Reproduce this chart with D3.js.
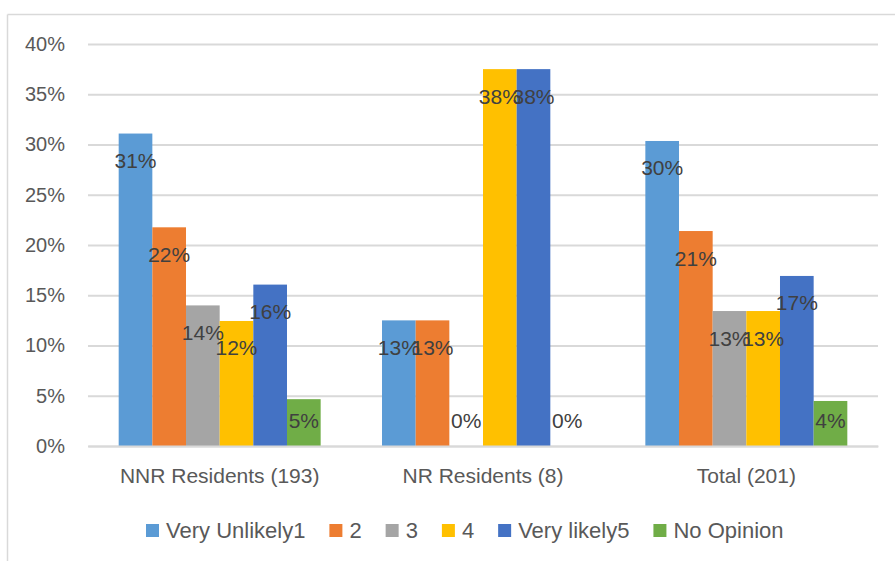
<!DOCTYPE html>
<html>
<head>
<meta charset="utf-8">
<script src="https://cdn.jsdelivr.net/npm/d3@7"></script>
<style>
  html, body { margin: 0; padding: 0; background: #fff; }
  svg { display: block; font-family: "Liberation Sans", Arial, sans-serif; }
</style>
</head>
<body>
<svg id="chart" width="895" height="561"></svg>
<script>
// ---- data ----
const categories = ["NNR Residents (193)", "NR Residents (8)", "Total (201)"];
const seriesNames = ["Very Unlikely1", "2", "3", "4", "Very likely5", "No Opinion"];
const seriesColors = ["#5B9BD5", "#ED7D31", "#A5A5A5", "#FFC000", "#4472C4", "#70AD47"];
// values per series, one per category (fractions)
const veryUnlikely1 = [0.3109, 0.125, 0.3035];
const s2            = [0.2176, 0.125, 0.2139];
const s3            = [0.1399, 0.0,   0.1343];
const s4            = [0.1244, 0.375, 0.1343];
const veryLikely5   = [0.1606, 0.375, 0.1692];
const noOpinion     = [0.0466, 0.0,   0.0448];
const seriesValues = [veryUnlikely1, s2, s3, s4, veryLikely5, noOpinion];
const yTicks = [0, 0.05, 0.10, 0.15, 0.20, 0.25, 0.30, 0.35, 0.40];

// ---- layout ----
const svg = d3.select("#chart");
const plot = { left: 88, right: 878, top: 44, bottom: 446 };

// chart frame (left and top edges visible)
svg.append("line").attr("x1", 7.5).attr("x2", 7.5).attr("y1", 14.5).attr("y2", 561)
  .attr("stroke", "#d9d9d9").attr("stroke-width", 1.5);
svg.append("line").attr("x1", 7.5).attr("x2", 895).attr("y1", 14.5).attr("y2", 14.5)
  .attr("stroke", "#d9d9d9").attr("stroke-width", 1.5);

const y = d3.scaleLinear().domain([0, 0.40]).range([plot.bottom, plot.top]);
const x0 = d3.scaleBand().domain(categories).range([plot.left, plot.right])
  .paddingInner(0.233).paddingOuter(0.1165);
const x1 = d3.scaleBand().domain(seriesNames).range([0, x0.bandwidth()]).padding(0);

// gridlines
const yAxis = d3.axisLeft(y).tickValues(yTicks).tickFormat(d3.format(".0%"))
  .tickSize(-(plot.right - plot.left)).tickPadding(23);
const gy = svg.append("g").attr("transform", `translate(${plot.left},0)`).call(yAxis);
gy.select(".domain").remove();
gy.selectAll(".tick line").attr("stroke", "#d9d9d9").attr("stroke-width", 2);
gy.selectAll(".tick text").attr("fill", "#595959").attr("font-size", 20)
  .attr("font-family", '"Liberation Sans", Arial, sans-serif');

// bars
const rows = [];
seriesNames.forEach((s, si) => {
  categories.forEach((c, ci) => {
    rows.push({ series: s, si, cat: c, value: seriesValues[si][ci] });
  });
});

svg.append("g").selectAll("rect").data(rows).join("rect")
  .attr("x", d => x0(d.cat) + x1(d.series))
  .attr("width", x1.bandwidth())
  .attr("y", d => y(d.value))
  .attr("height", d => y(0) - y(d.value))
  .attr("fill", d => seriesColors[d.si]);

// data labels (inside end)
svg.append("g").selectAll("text").data(rows).join("text")
  .attr("x", d => x0(d.cat) + x1(d.series) + x1.bandwidth() / 2)
  .attr("y", d => Math.min(y(d.value) + 34.5, y(0) - 18.5))
  .attr("text-anchor", "middle")
  .attr("font-size", 21)
  .attr("fill", "#404040")
  .text(d => d3.format(".0%")(d.value));

// category axis
const xAxis = d3.axisBottom(x0).tickSize(0).tickPadding(22);
const gx = svg.append("g").attr("transform", `translate(0,${plot.bottom})`).call(xAxis);
gx.select(".domain").attr("stroke", "#d9d9d9").attr("stroke-width", 2);
gx.selectAll(".tick text").attr("fill", "#595959").attr("font-size", 21)
  .attr("font-family", '"Liberation Sans", Arial, sans-serif');

// legend
const legend = svg.append("g").attr("transform", "translate(146,0)");
let lx = 0;
seriesNames.forEach((s, i) => {
  const g = legend.append("g").attr("transform", `translate(${lx},0)`);
  g.append("rect").attr("x", 0).attr("y", 524).attr("width", 13).attr("height", 13)
    .attr("fill", seriesColors[i]);
  const t = g.append("text").attr("x", 20).attr("y", 538)
    .attr("font-size", 22).attr("fill", "#595959").text(s);
  const w = t.node().getComputedTextLength();
  lx += 20 + w + 24;
});
</script>
</body>
</html>
